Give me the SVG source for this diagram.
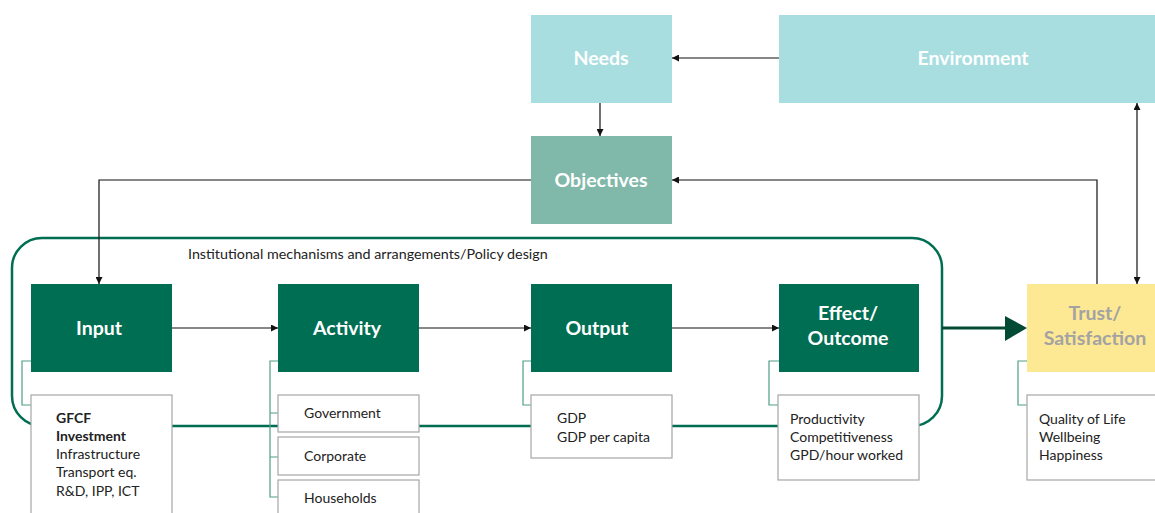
<svg xmlns="http://www.w3.org/2000/svg" width="1155" height="513" viewBox="0 0 1155 513">
<style>
.main{fill:#006e52}
.lbl{font-family:Lato,"Liberation Sans",sans-serif;font-weight:700;font-size:19.5px;fill:#fff;text-anchor:middle}
.sub{fill:#fff;stroke:#a6a6a6;stroke-width:1.2}
.st{font-family:Lato,"Liberation Sans",sans-serif;font-size:14px;fill:#222}
.br{fill:none;stroke:#4f9e88;stroke-width:1.2}
.ar{fill:none;stroke:#111;stroke-width:1.2}
</style>
<defs>
<marker id="ah" viewBox="0 0 10 10" refX="10" refY="5" markerWidth="7" markerHeight="7" markerUnits="userSpaceOnUse" orient="auto-start-reverse"><path d="M0,0 L10,5 L0,10 z" fill="#111"/></marker>
</defs>
<g id="frame">
<rect x="12" y="238" width="930" height="188" rx="30" ry="30" fill="none" stroke="#006e52" stroke-width="2.5"/>
<text class="st" x="188" y="259" style="font-size:14.3px">Institutional mechanisms and arrangements/Policy design</text>
</g>
<g id="connectors">
<path class="ar" d="M779,58 H672" marker-end="url(#ah)"/>
<path class="ar" d="M600,103 V136" marker-end="url(#ah)"/>
<path class="ar" d="M531,180 H99 V284" marker-end="url(#ah)"/>
<path class="ar" d="M1097,284 V180 H672" marker-end="url(#ah)"/>
<path class="ar" d="M1137,284 V103" marker-start="url(#ah)" marker-end="url(#ah)"/>
<path class="ar" d="M172,328 H278" marker-end="url(#ah)"/>
<path class="ar" d="M419,328 H531" marker-end="url(#ah)"/>
<path class="ar" d="M672,328 H779" marker-end="url(#ah)"/>
<path d="M942,328 H1006" stroke="#024a34" stroke-width="3" fill="none"/>
<path d="M1005,316 L1027,328 L1005,341 z" fill="#024a34"/>
<path class="br" d="M31,361 H22 V405 H31"/>
<path class="br" d="M278,361 H270 V497 H278 M270,413 H278 M270,457 H278"/>
<path class="br" d="M531,361 H523 V405 H531"/>
<path class="br" d="M779,361 H769 V405 H779"/>
<path class="br" d="M1027,361 H1018 V405 H1027"/>
</g>
<g id="needs"><rect x="531" y="15" width="141" height="88" fill="#a8dedf"/><text class="lbl" x="601" y="65">Needs</text></g>
<g id="environment"><rect x="779" y="15" width="390" height="88" fill="#a8dedf"/><text class="lbl" x="973" y="65">Environment</text></g>
<g id="objectives"><rect x="531" y="136" width="141" height="88" fill="#80b8a9"/><text class="lbl" x="601" y="187">Objectives</text></g>
<g id="input"><rect class="main" x="31" y="284" width="141" height="88"/><text class="lbl" x="99" y="335">Input</text></g>
<g id="activity"><rect class="main" x="278" y="284" width="141" height="88"/><text class="lbl" x="347" y="335">Activity</text></g>
<g id="output"><rect class="main" x="531" y="284" width="141" height="88"/><text class="lbl" x="597" y="335">Output</text></g>
<g id="effect"><rect class="main" x="779" y="284" width="140" height="88"/><text class="lbl" x="848" y="320">Effect/</text><text class="lbl" x="848" y="345">Outcome</text></g>
<g id="trust"><rect x="1027" y="284" width="141" height="88" fill="#fde893"/><text class="lbl" x="1095" y="320" style="fill:#a3a3a3">Trust/</text><text class="lbl" x="1095" y="345" style="fill:#a3a3a3">Satisfaction</text></g>
<g id="input-detail"><rect class="sub" x="31" y="395" width="141" height="125"/>
<text class="st" x="56" y="423" font-weight="700">GFCF</text>
<text class="st" x="56" y="441" font-weight="700">Investment</text>
<text class="st" x="56" y="459">Infrastructure</text>
<text class="st" x="56" y="477">Transport eq.</text>
<text class="st" x="56" y="496">R&amp;D, IPP, ICT</text></g>
<g id="government"><rect class="sub" x="278" y="395" width="141" height="37"/><text class="st" x="304" y="418">Government</text></g>
<g id="corporate"><rect class="sub" x="278" y="437" width="141" height="38"/><text class="st" x="304" y="461">Corporate</text></g>
<g id="households"><rect class="sub" x="278" y="480" width="141" height="40"/><text class="st" x="304" y="503">Households</text></g>
<g id="output-detail"><rect class="sub" x="531" y="395" width="141" height="63"/><text class="st" x="557" y="423">GDP</text><text class="st" x="557" y="442">GDP per capita</text></g>
<g id="effect-detail"><rect class="sub" x="778" y="395" width="141" height="85"/><text class="st" x="790" y="424">Productivity</text><text class="st" x="790" y="442">Competitiveness</text><text class="st" x="790" y="460">GPD/hour worked</text></g>
<g id="trust-detail"><rect class="sub" x="1027" y="395" width="141" height="85"/><text class="st" x="1039" y="424">Quality of Life</text><text class="st" x="1039" y="442">Wellbeing</text><text class="st" x="1039" y="460">Happiness</text></g>
</svg>
